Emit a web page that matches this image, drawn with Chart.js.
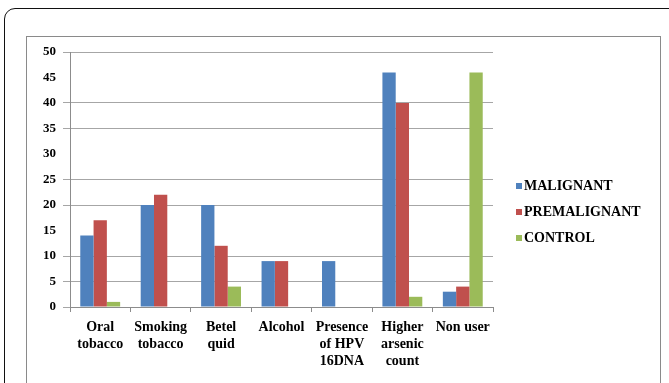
<!DOCTYPE html>
<html>
<head>
<meta charset="utf-8">
<script src="https://cdn.jsdelivr.net/npm/chart.js@4/dist/chart.umd.min.js"></script>
<style>
  html, body { margin: 0; padding: 0; background: #fff; }
  #wrap { position: relative; width: 669px; height: 383px; overflow: hidden; }
  #outer { position: absolute; left: 4px; top: 8px; width: 700px; height: 420px;
           border: 1.5px solid #111; border-radius: 11px; box-sizing: border-box; }
  #inner { position: absolute; left: 26px; top: 36px; width: 635px; height: 400px;
           border: 1px solid #8a8a8a; box-sizing: border-box; }
  canvas { position: absolute; left: 0; top: 0; }
</style>
</head>
<body>
<div id="wrap">
  <div id="outer"></div>
  <div id="inner"></div>
  <canvas id="c" width="669" height="383"></canvas>
</div>
<script>
// Risk factors on the x axis (multi-line labels)
const categories = [
  ['Oral', 'tobacco'],
  ['Smoking', 'tobacco'],
  ['Betel', 'quid'],
  ['Alcohol'],
  ['Presence', 'of HPV', '16DNA'],
  ['Higher', 'arsenic', 'count'],
  ['Non user']
];
const seriesNames = ['MALIGNANT', 'PREMALIGNANT', 'CONTROL'];
const malignant    = [14, 20, 20, 9, 9, 46, 3];
const premalignant = [17, 22, 12, 9, 0, 40, 4];
const control      = [1, 0, 4, 0, 0, 2, 46];
const yTicks = [0, 5, 10, 15, 20, 25, 30, 35, 40, 45, 50];
// ticks that carry a label but no grid line or tick mark
const unlinedTicks = [15, 30, 45];

const colors = ['#4F81BD', '#C0504D', '#9BBB59'];
const serif = "'Liberation Serif', 'Times New Roman', serif";

// Legend drawn at the right of the plot
const sideLegend = {
  id: 'sideLegend',
  afterDraw(chart) {
    const ctx = chart.ctx;
    ctx.save();
    ctx.font = 'bold 14px ' + serif;
    ctx.textBaseline = 'middle';
    chart.data.datasets.forEach((ds, i) => {
      const y = 186 + i * 26;
      ctx.fillStyle = ds.backgroundColor;
      ctx.fillRect(516, y - 3, 6, 6);
      ctx.fillStyle = '#000';
      ctx.fillText(ds.label, 524, y);
    });
    ctx.restore();
  }
};

const gridColor = c => {
  const v = c.tick ? c.tick.value : yTicks[c.index];
  return unlinedTicks.includes(v) ? 'rgba(0,0,0,0)' : '#a6a6a6';
};

new Chart(document.getElementById('c'), {
  type: 'bar',
  data: {
    labels: categories,
    datasets: [
      { label: seriesNames[0], data: malignant, backgroundColor: colors[0] },
      { label: seriesNames[1], data: premalignant, backgroundColor: colors[1] },
      { label: seriesNames[2], data: control, backgroundColor: colors[2] }
    ]
  },
  options: {
    responsive: false,
    animation: false,
    devicePixelRatio: 1,
    layout: { padding: { left: 30, right: 176, top: 52, bottom: 0 } },
    datasets: { bar: { categoryPercentage: 0.66, barPercentage: 1.0 } },
    plugins: { legend: { display: false }, tooltip: { enabled: false } },
    scales: {
      x: {
        afterFit(s) { s.height = 76; },
        grid: { offset: true, drawOnChartArea: false, tickLength: 5, color: '#8c8c8c' },
        border: { color: '#8c8c8c' },
        ticks: { color: '#000', padding: 7, maxRotation: 0, autoSkip: false,
                 font: { family: serif, size: 14, weight: 'bold', lineHeight: 1.2 } }
      },
      y: {
        min: 0, max: 50,
        afterFit(s) { s.width = 40; },
        afterBuildTicks(s) { s.ticks = yTicks.map(v => ({ value: v })); },
        grid: { tickLength: 7, color: gridColor },
        border: { color: '#8c8c8c' },
        ticks: { color: '#000', padding: 7,
                 font: { family: serif, size: 13, weight: 'bold' } }
      }
    }
  },
  plugins: [sideLegend]
});
</script>
</body>
</html>
